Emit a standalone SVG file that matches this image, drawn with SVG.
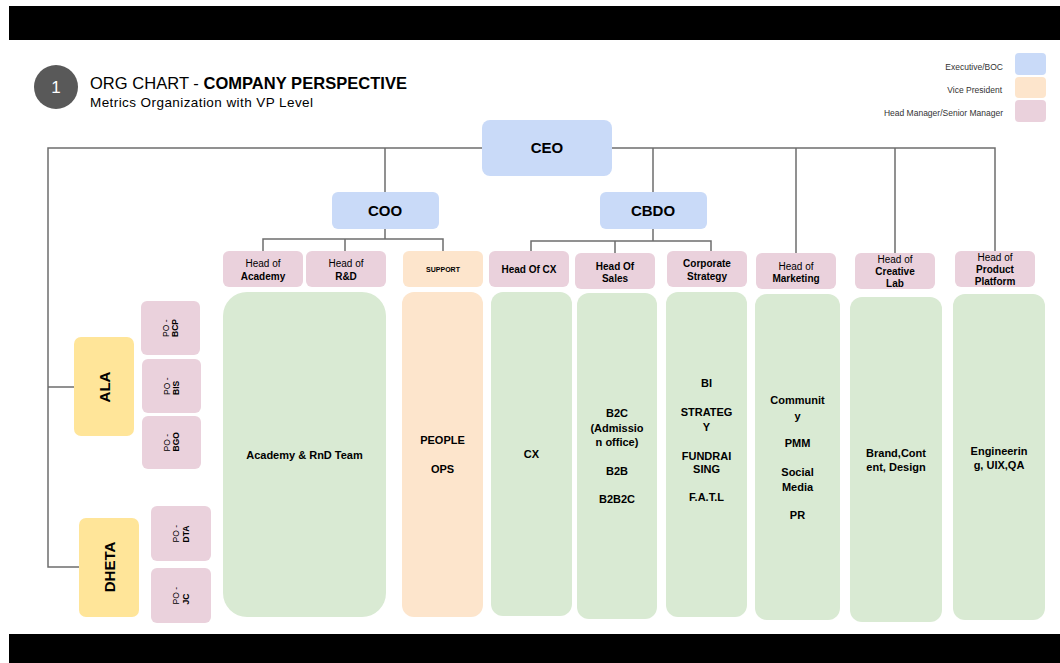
<svg xmlns="http://www.w3.org/2000/svg" width="1060" height="663" viewBox="0 0 1060 663">
<style>
text{font-family:"Liberation Sans",Arial,sans-serif;fill:#000}
.b{font-weight:bold}
.ln{stroke:#6e6e6e;stroke-width:1.5;fill:none}
.exec{fill:#c9daf8}
.vp{fill:#fde5cc}
.hm{fill:#ead1dc}
.team{fill:#d9ead3}
.grp{fill:#ffe599}
.t15{font-size:15px;font-weight:bold;text-anchor:middle}
.t10{font-size:10px;text-anchor:middle}
.t11{font-size:11px;font-weight:bold;text-anchor:middle}
.po{font-size:8.5px}
.lg{font-size:8.5px;text-anchor:end;fill:#333}
</style>
<rect x="0" y="0" width="1060" height="663" fill="#fff"/>
<rect x="9" y="6" width="1051" height="34" fill="#000"/>
<rect x="9" y="634" width="1051" height="29" fill="#000"/>

<g id="title">
<circle cx="56" cy="87" r="22" fill="#595959"/>
<text x="56" y="93" font-size="17" text-anchor="middle" style="fill:#fff">1</text>
<text x="90" y="89" font-size="16.5" textLength="317" lengthAdjust="spacing">ORG CHART - <tspan class="b">COMPANY PERSPECTIVE</tspan></text>
<text x="90" y="107" font-size="13.5" fill="#222" textLength="223" lengthAdjust="spacing">Metrics Organization with VP Level</text>
</g>

<g id="legend">
<rect class="exec" x="1015" y="53" width="31" height="22" rx="4"/>
<rect class="vp" x="1015" y="77" width="31" height="21" rx="4"/>
<rect class="hm" x="1015" y="100" width="31" height="22" rx="4"/>
<text class="lg" x="1003" y="70">Executive/BOC</text>
<text class="lg" x="1002" y="93">Vice President</text>
<text class="lg" x="1003" y="116">Head Manager/Senior Manager</text>
</g>

<g id="connectors">
<path class="ln" d="M482 148 H48 V567 H79 M48 387 H74"/>
<path class="ln" d="M612 148 H995 V251 M385 148 V192 M653 148 V192 M796 148 V253 M895 148 V253"/>
<path class="ln" d="M385 229 V239 M263 251 V239 H443 V251 M345 239 V251"/>
<path class="ln" d="M653 229 V241 M531 251 V241 H711 V251 M615 241 V253"/>
</g>

<g id="ceo"><rect class="exec" x="482" y="120" width="130" height="56" rx="8"/><text class="t15" x="547" y="153">CEO</text></g>
<g id="coo"><rect class="exec" x="332" y="192" width="107" height="37" rx="6"/><text class="t15" x="385" y="216">COO</text></g>
<g id="cbdo"><rect class="exec" x="600" y="192" width="107" height="37" rx="6"/><text class="t15" x="653" y="216">CBDO</text></g>

<g id="ala"><rect class="grp" x="74" y="337" width="60" height="99" rx="7"/><text class="t15" transform="translate(104 387) rotate(-90)" y="5.5">ALA</text></g>
<g id="dheta"><rect class="grp" x="79" y="518" width="60" height="99" rx="7"/><text class="t15" transform="translate(109 567) rotate(-90)" y="5.5">DHETA</text></g>

<g id="po-bcp"><rect class="hm" x="141" y="301" width="59" height="54" rx="6"/><text class="po" transform="translate(170.5 328) rotate(-90)"><tspan x="-9" y="-2">PO -</tspan><tspan class="b" x="-9" y="7.5">BCP</tspan></text></g>
<g id="po-bis"><rect class="hm" x="142" y="359" width="59" height="54" rx="6"/><text class="po" transform="translate(171.5 386) rotate(-90)"><tspan x="-9" y="-2">PO -</tspan><tspan class="b" x="-9" y="7.5">BIS</tspan></text></g>
<g id="po-bgo"><rect class="hm" x="142" y="416" width="59" height="53" rx="6"/><text class="po" transform="translate(171.5 442.5) rotate(-90)"><tspan x="-9" y="-2">PO -</tspan><tspan class="b" x="-9" y="7.5">BGO</tspan></text></g>
<g id="po-dta"><rect class="hm" x="151" y="506" width="60" height="55" rx="6"/><text class="po" transform="translate(181 533.5) rotate(-90)"><tspan x="-9" y="-2">PO -</tspan><tspan class="b" x="-9" y="7.5">DTA</tspan></text></g>
<g id="po-jc"><rect class="hm" x="151" y="568" width="60" height="55" rx="6"/><text class="po" transform="translate(181 595.5) rotate(-90)"><tspan x="-9" y="-2">PO -</tspan><tspan class="b" x="-9" y="7.5">JC</tspan></text></g>

<g id="head-academy"><rect class="hm" x="223" y="251" width="80" height="36" rx="6"/><text class="t10" x="263" y="266.5">Head of</text><text class="t10 b" x="263" y="279.5">Academy</text></g>
<g id="head-rnd"><rect class="hm" x="306" y="251" width="80" height="36" rx="6"/><text class="t10" x="346" y="266.5">Head of</text><text class="t10 b" x="346" y="279.5">R&amp;D</text></g>
<g id="support"><rect class="vp" x="403" y="251" width="80" height="36" rx="6"/><text class="b" x="443" y="271.5" font-size="7" text-anchor="middle">SUPPORT</text></g>
<g id="head-cx"><rect class="hm" x="489" y="251" width="80" height="36" rx="6"/><text class="t10 b" x="529" y="272.5">Head Of CX</text></g>
<g id="head-sales"><rect class="hm" x="575" y="253" width="80" height="36" rx="6"/><text class="t10 b" x="615" y="269.5">Head Of</text><text class="t10 b" x="615" y="281.5">Sales</text></g>
<g id="corp-strategy"><rect class="hm" x="667" y="251" width="80" height="36" rx="6"/><text class="t10 b" x="707" y="266.5">Corporate</text><text class="t10 b" x="707" y="279.5">Strategy</text></g>
<g id="head-marketing"><rect class="hm" x="756" y="253" width="80" height="36" rx="6"/><text class="t10" x="796" y="269.5">Head of</text><text class="t10 b" x="796" y="281.5">Marketing</text></g>
<g id="head-creative"><rect class="hm" x="855" y="253" width="80" height="36" rx="6"/><text class="t10" x="895" y="262.5">Head of</text><text class="t10 b" x="895" y="275">Creative</text><text class="t10 b" x="895" y="287">Lab</text></g>
<g id="head-product"><rect class="hm" x="955" y="251" width="80" height="36" rx="6"/><text class="t10" x="995" y="260.5">Head of</text><text class="t10 b" x="995" y="272.5">Product</text><text class="t10 b" x="995" y="284.5">Platform</text></g>

<g id="team-academy"><rect class="team" x="223" y="292" width="163" height="325" rx="24"/><text class="t11" x="304.5" y="459">Academy &amp; RnD Team</text></g>
<g id="team-support"><rect class="vp" x="402" y="292" width="81" height="325" rx="12"/><text class="t11" x="442.5" y="444">PEOPLE</text><text class="t11" x="442.5" y="473">OPS</text></g>
<g id="team-cx"><rect class="team" x="491" y="292" width="81" height="324" rx="12"/><text class="t11" x="531.5" y="458">CX</text></g>
<g id="team-sales"><rect class="team" x="577" y="293" width="80" height="326" rx="12"/><text class="t11" x="617" y="417">B2C</text><text class="t11" x="617" y="432">(Admissio</text><text class="t11" x="617" y="446">n office)</text><text class="t11" x="617" y="475">B2B</text><text class="t11" x="617" y="503">B2B2C</text></g>
<g id="team-corp"><rect class="team" x="666" y="292" width="81" height="325" rx="12"/><text class="t11" x="706.5" y="387">BI</text><text class="t11" x="706.5" y="416">STRATEG</text><text class="t11" x="706.5" y="431">Y</text><text class="t11" x="706.5" y="460">FUNDRAI</text><text class="t11" x="706.5" y="473">SING</text><text class="t11" x="706.5" y="501">F.A.T.L</text></g>
<g id="team-marketing"><rect class="team" x="755" y="294" width="85" height="326" rx="12"/><text class="t11" x="797.5" y="404">Communit</text><text class="t11" x="797.5" y="420">y</text><text class="t11" x="797.5" y="447">PMM</text><text class="t11" x="797.5" y="476">Social</text><text class="t11" x="797.5" y="491">Media</text><text class="t11" x="797.5" y="519">PR</text></g>
<g id="team-creative"><rect class="team" x="850" y="297" width="92" height="325" rx="12"/><text class="t11" x="896" y="457">Brand,Cont</text><text class="t11" x="896" y="471">ent, Design</text></g>
<g id="team-product"><rect class="team" x="953" y="294" width="92" height="326" rx="12"/><text class="t11" x="999" y="455">Engineerin</text><text class="t11" x="999" y="469">g, UIX,QA</text></g>
</svg>
